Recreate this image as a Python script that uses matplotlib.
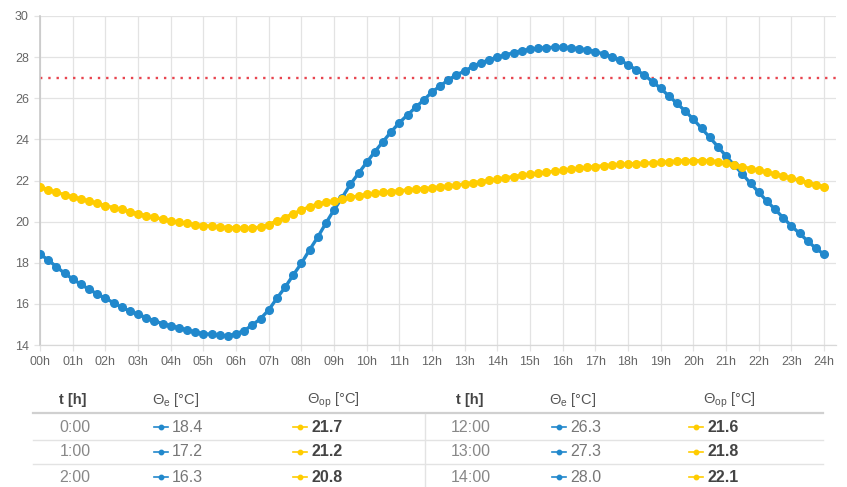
import numpy as np
import matplotlib
matplotlib.use("Agg")
import matplotlib.pyplot as plt
from matplotlib.lines import Line2D

plt.rcParams['font.family'] = ['Liberation Sans', 'DejaVu Sans']
plt.rcParams['mathtext.fontset'] = 'custom'
plt.rcParams['mathtext.rm'] = 'Liberation Sans'
plt.rcParams['mathtext.it'] = 'Liberation Sans:italic'
plt.rcParams['mathtext.bf'] = 'Liberation Sans:bold'

# ---- data: 15-minute samples from 00h to 24h ----
theta_e = [
    18.43, 18.13, 17.81, 17.49,
    17.21, 16.95, 16.71, 16.48,
    16.27, 16.06, 15.83, 15.65,
    15.49, 15.33, 15.17, 15.04,
    14.94, 14.84, 14.73, 14.63,
    14.55, 14.52, 14.47, 14.44,
    14.55, 14.70, 14.97, 15.28,
    15.70, 16.27, 16.80, 17.40,
    17.97, 18.62, 19.24, 19.92,
    20.57, 21.17, 21.81, 22.35,
    22.88, 23.40, 23.89, 24.37,
    24.81, 25.19, 25.56, 25.92,
    26.30, 26.60, 26.89, 27.14,
    27.32, 27.55, 27.73, 27.86,
    28.00, 28.10, 28.22, 28.32,
    28.38, 28.43, 28.46, 28.48,
    28.48, 28.46, 28.41, 28.35,
    28.27, 28.15, 28.02, 27.86,
    27.63, 27.38, 27.13, 26.81,
    26.48, 26.11, 25.75, 25.38,
    24.98, 24.54, 24.10, 23.65,
    23.19, 22.75, 22.32, 21.86,
    21.43, 21.00, 20.60, 20.19,
    19.79, 19.43, 19.06, 18.70,
    18.41,
]
theta_op = [
    21.70, 21.55, 21.42, 21.31,
    21.21, 21.10, 21.00, 20.89,
    20.78, 20.68, 20.59, 20.49,
    20.39, 20.29, 20.21, 20.12,
    20.04, 19.97, 19.91, 19.85,
    19.81, 19.78, 19.75, 19.71,
    19.69, 19.68, 19.68, 19.74,
    19.86, 20.03, 20.20, 20.39,
    20.56, 20.72, 20.85, 20.94,
    21.02, 21.10, 21.18, 21.25,
    21.32, 21.37, 21.42, 21.46,
    21.50, 21.54, 21.58, 21.61,
    21.64, 21.69, 21.74, 21.78,
    21.83, 21.89, 21.95, 22.01,
    22.07, 22.13, 22.19, 22.25,
    22.30, 22.35, 22.40, 22.45,
    22.50, 22.55, 22.60, 22.64,
    22.68, 22.72, 22.75, 22.78,
    22.80, 22.82, 22.84, 22.86,
    22.88, 22.91, 22.94, 22.96,
    22.97, 22.96, 22.95, 22.92,
    22.85, 22.76, 22.67, 22.58,
    22.50, 22.41, 22.31, 22.21,
    22.12, 22.01, 21.90, 21.80,
    21.70,
]
hours = np.arange(len(theta_e)) * 0.25
limit_value = 27
x_ticks = list(range(0, 25))
x_tick_labels = [f"{h:02d}h" for h in x_ticks]
y_ticks = list(range(14, 31, 2))

table_hours_left = [0, 1, 2]
table_hours_right = [12, 13, 14]

BLUE = '#2188cc'
YELLOW = '#ffcc00'
RED = '#e8454f'
GRID = '#e3e3e3'

W, H = 847, 487
fig = plt.figure(figsize=(W / 100, H / 100), dpi=100)

# ---- table canvas (pixel coordinates) ----
tab = fig.add_axes([0, 0, 1, 1])
tab.set_xlim(0, W)
tab.set_ylim(H, 0)
tab.axis('off')
tab.patch.set_alpha(0)

# ---- chart ----
ax = fig.add_axes([40 / W, 1 - 345 / H, (836 - 40) / W, (345 - 16) / H])
ax.set_xlim(0, 24 * (836 - 40) / (824 - 40))
ax.set_ylim(14, 30)
ax.set_xticks(x_ticks)
ax.set_xticklabels(x_tick_labels)
ax.set_yticks(y_ticks)
ax.grid(True, color=GRID, lw=0.9)
ax.set_axisbelow(True)
for s in ['top', 'right']:
    ax.spines[s].set_visible(False)
ax.spines['left'].set_color('#c8c8c8')
ax.spines['left'].set_linewidth(1.2)
ax.spines['bottom'].set_color('#d8d8d8')
ax.spines['bottom'].set_linewidth(0.9)
ax.tick_params(axis='both', length=4, color=GRID, width=0.9,
               labelsize=9, labelcolor='#666666', pad=4)

ax.axhline(limit_value, color=RED, lw=1.7, dashes=(1, 2.5),
           dash_capstyle='butt', zorder=2)
ax.plot(hours, theta_e, '-o', color=BLUE, lw=2.4, ms=5.5, zorder=3)
ax.plot(hours, theta_op, '-o', color=YELLOW, lw=2.4, ms=5.5, zorder=4)

# ---- table below ----
header_y = 400
row_ys = [427, 452, 477]
tab.plot([33, 823], [413, 413], color='#d0d0d0', lw=1.6)
for yl in [439.5, 464]:
    tab.plot([33, 823], [yl, yl], color=GRID, lw=1.0)
tab.plot([425, 425], [414, 487], color=GRID, lw=1.0)

def header(x_time, x_e, x_op):
    tab.text(x_time, header_y, 't [h]', ha='center', va='center',
             fontsize=10.5, fontweight='bold', color='#444444')
    tab.text(x_e, header_y, r'$\mathrm{Θ_{e}}$ [°C]', ha='center', va='center',
             fontsize=10.5, color='#555555')
    tab.text(x_op, header_y, r'$\mathrm{Θ_{op}}$ [°C]', ha='center', va='center',
             fontsize=10.5, color='#555555')

def mini(x0, y, color):
    tab.add_line(Line2D([x0, x0 + 14], [y, y], color=color, lw=1.2))
    tab.plot([x0 + 7], [y], 'o', color=color, ms=3.2)

def rows(hrs, x_time, x_e, x_op):
    for hr, y in zip(hrs, row_ys):
        tab.text(x_time, y, f"{hr}:00", ha='center', va='center',
                 fontsize=11.5, color='#888888')
        mini(x_e, y, BLUE)
        tab.text(x_e + 18, y, f"{theta_e[hr * 4]:.1f}", ha='left', va='center',
                 fontsize=11.5, color='#777777')
        mini(x_op, y, YELLOW)
        tab.text(x_op + 18, y, f"{theta_op[hr * 4]:.1f}", ha='left', va='center',
                 fontsize=11.5, fontweight='bold', color='#444444')

header(73, 176, 333)
header(470, 573, 729)
rows(table_hours_left, 75, 154, 293)
rows(table_hours_right, 471, 552, 689)

fig.savefig('out.png', dpi=100)
